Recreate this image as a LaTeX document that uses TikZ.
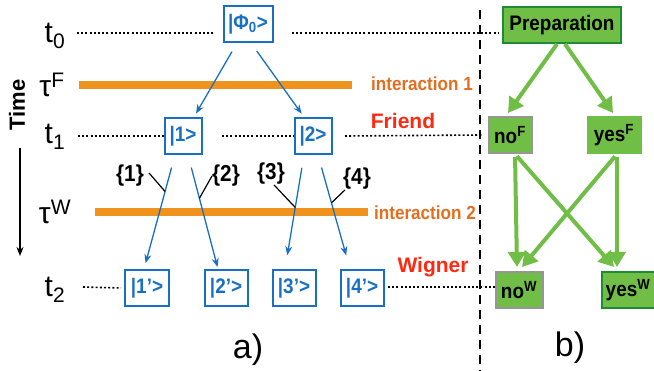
\documentclass[tikz,border=0pt]{standalone}
\usepackage{fontspec}
\setmainfont{Liberation Sans}
\newfontfamily\cnd{Liberation Sans}[FakeStretch=0.9]
\usetikzlibrary{arrows.meta, calc}

\definecolor{qblue}{RGB}{24,112,196}
\definecolor{qorange}{RGB}{240,146,30}
\definecolor{qorangetext}{RGB}{226,110,30}
\definecolor{qred}{RGB}{255,40,16}
\definecolor{qgreen}{RGB}{112,190,70}
\definecolor{qdarkgreen}{RGB}{30,140,50}
\definecolor{qgray}{RGB}{150,150,150}

\tikzset{
  state/.style={draw=qblue, line width=2pt, text=qblue, minimum height=36pt,
    inner sep=1pt, font=\cnd\bfseries\fontsize{21}{21}\selectfont},
  outcome/.style={fill=qgreen, line width=2pt, minimum height=36pt,
    inner sep=2pt, font=\cnd\bfseries\fontsize{21}{21}\selectfont},
  timelabel/.style={font=\fontsize{30}{30}\selectfont},
  branch/.style={font=\cnd\bfseries\fontsize{23}{23}\selectfont, inner sep=0pt},
  dotline/.style={line width=1.6pt, dash pattern=on 2pt off 2.2pt},
  bluearrow/.style={qblue, line width=1.3pt, -{Stealth[length=9pt,width=7pt]}},
  greenarrow/.style={qgreen, line width=4pt, -{Triangle[length=15pt,width=17pt]}},
  orangebar/.style={qorange, line width=8pt},
}

\begin{document}
\begin{tikzpicture}[x=1pt, y=-1pt]
\useasboundingbox (0,0) rectangle (654,371);

% Time axis labels
\node[timelabel] (t0lab) at (55,36) {t\textsubscript{0}};
\node[timelabel] (tFlab) at (52,85) {τ\textsuperscript{F}};
\node[timelabel] (t1lab) at (55,137) {t\textsubscript{1}};
\node[timelabel] (tWlab) at (55,212) {τ\textsuperscript{W}};
\node[timelabel] (t2lab) at (55,290) {t\textsubscript{2}};

% Time arrow
\node[rotate=90, font=\bfseries\fontsize{22}{22}\selectfont] (timelab) at (17,105) {Time};
\coordinate (timetop) at (20,148);
\coordinate (timebot) at (20,256);
\draw[line width=1.5pt, -{Stealth[length=9pt,width=7pt]}] (timetop) -- (timebot);

% States of part a)
\node[state, minimum width=49pt] (phi0) at (248,24) {|Φ\textsubscript{0}>};
\node[state, minimum width=37pt] (one) at (183,136) {|1>};
\node[state, minimum width=37pt] (two) at (313,136) {|2>};
\node[state, minimum width=44pt] (onep) at (147,288) {|1’>};
\node[state, minimum width=43pt] (twop) at (226,288) {|2’>};
\node[state, minimum width=43pt] (threep) at (294,288) {|3’>};
\node[state, minimum width=43pt] (fourp) at (362,288) {|4’>};

% Interactions
\draw[orangebar] (79,85) -- (352,85);
\draw[orangebar] (95,212) -- (368,212);
\node[text=qorangetext, font=\cnd\bfseries\fontsize{19}{19}\selectfont] (int1) at (422,84) {interaction 1};
\node[text=qorangetext, font=\cnd\bfseries\fontsize{19}{19}\selectfont] (int2) at (425,213) {interaction 2};
\node[text=qred, font=\bfseries\fontsize{21}{21}\selectfont] (friend) at (403,121) {Friend};
\node[text=qred, font=\bfseries\fontsize{21}{21}\selectfont] (wigner) at (433,267) {Wigner};

% Branch arrows
\draw[bluearrow, shorten <=10pt, shorten >=4pt] ([xshift=-11pt]phi0.south) -- ([xshift=11pt]one.north);
\draw[bluearrow, shorten <=10pt, shorten >=4pt] ([xshift=3pt]phi0.south) -- ([xshift=-9pt]two.north);
\draw[bluearrow, shorten <=13pt, shorten >=6pt] ([xshift=-8pt]one.south) -- coordinate[pos=0.32] (c1) ([xshift=-3pt]onep.north);
\draw[bluearrow, shorten <=13pt, shorten >=2pt] ([xshift=5pt]one.south) -- coordinate[pos=0.38] (c2) ([xshift=-8pt]twop.north);
\draw[bluearrow, shorten <=13pt, shorten >=14pt] ([xshift=-9pt]two.south) -- coordinate[pos=0.46] (c3) ([xshift=-9pt]threep.north);
\draw[bluearrow, shorten <=13pt, shorten >=14pt] ([xshift=5pt]two.south) -- coordinate[pos=0.42] (c4) ([xshift=-12pt]fourp.north);

% Branch labels
\node[branch] (br1) at (130,176) {\{1\}};
\node[branch] (br2) at (226,176) {\{2\}};
\node[branch] (br3) at (271,174) {\{3\}};
\node[branch] (br4) at (357,179) {\{4\}};
\draw[line width=1.2pt] ([xshift=5pt,yshift=3pt]br1.east) -- (c1);
\draw[line width=1.2pt] (br2.west) -- (c2);
\draw[line width=1.2pt] ([xshift=3pt]br3.south) -- (c3);
\draw[line width=1.2pt] ([xshift=2pt]br4.south west) -- (c4);

% Outcomes of part b)
\node[outcome, draw=qdarkgreen, minimum width=118pt] (prep) at (562,25) {Preparation};
\node[outcome, draw=qgray, minimum width=43pt] (noF) at (510,135) {no\textsuperscript{F}};
\node[outcome, draw=qgreen, minimum width=53pt] (yesF) at (614,135) {yes\textsuperscript{F}};
\node[outcome, draw=qgray, minimum width=47pt] (noW) at (519,290) {no\textsuperscript{W}};
\node[outcome, draw=qdarkgreen, minimum width=53pt] (yesW) at (628,290) {yes\textsuperscript{W}};

\draw[greenarrow] ([xshift=-5pt]prep.south) -- ([xshift=-2pt,yshift=3pt]noF.north);
\draw[greenarrow] ([xshift=3pt]prep.south) -- ([xshift=-1pt,yshift=3pt]yesF.north);
\draw[greenarrow, shorten <=3pt] ([xshift=5pt]noF.south) -- ([xshift=-2pt,yshift=4pt]noW.north);
\draw[greenarrow, shorten <=3pt] ([xshift=5pt]noF.south) -- ([xshift=-14pt,yshift=4pt]yesW.north);
\draw[greenarrow, shorten <=3pt] ([xshift=3pt]yesF.south) -- ([xshift=3pt,yshift=4pt]noW.north);
\draw[greenarrow, shorten <=3pt] ([xshift=3pt]yesF.south) -- ([xshift=-11pt,yshift=4pt]yesW.north);

% Separator
\draw[line width=2pt, dash pattern=on 9pt off 6pt] (480,10) -- (480,371);

% Time lines
\draw[dotline] (77,33) -- (215,33);
\draw[dotline] (292,33) -- ([xshift=-4pt]prep.west |- 0,33);
\draw[dotline] (78,136) -- (one.west);
\draw[dotline] (222,136) -- (two.west);
\draw[dotline] (345,136) -- ([xshift=-6pt]noF.west);
\draw[dotline] (83,287) -- ([xshift=-3pt]onep.west);
\draw[dotline] (388,287) -- (noW.west |- 0,287);

% Panel labels
\node[font=\fontsize{34}{34}\selectfont] (alab) at (248,350) {a)};
\node[font=\fontsize{34}{34}\selectfont] (blab) at (570,348) {b)};
\end{tikzpicture}
\end{document}
